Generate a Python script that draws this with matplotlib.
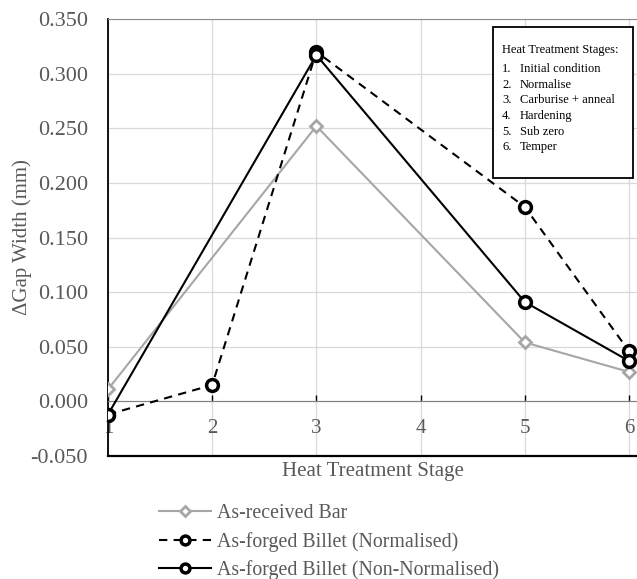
import numpy as np
import matplotlib.pyplot as plt
from matplotlib.patches import Rectangle

plt.rcParams['font.family'] = ['Liberation Serif', 'DejaVu Serif']

# --- data ---
bar_x = [1, 3, 5, 6]
bar_y = [0.011, 0.252, 0.054, 0.027]

norm_x = [1, 2, 3, 5, 6]
norm_y = [-0.012, 0.015, 0.320, 0.178, 0.046]

nonnorm_x = [1, 3, 5, 6]
nonnorm_y = [-0.012, 0.317, 0.091, 0.037]

stage_ticks = [1, 2, 3, 4, 5, 6]
y_ticks = [-0.05, 0.0, 0.05, 0.10, 0.15, 0.20, 0.25, 0.30, 0.35]
stages = ['Initial condition', 'Normalise', 'Carburise + anneal',
          'Hardening', 'Sub zero', 'Temper']

txt_grey = '#595959'

fig = plt.figure(figsize=(6.37, 5.79), dpi=100)
ax = fig.add_axes([0.1695, 0.2124, 0.8305, 0.7548])

ax.grid(True, color='#d9d9d9', lw=0.9)
ax.set_axisbelow(True)

ax.plot(bar_x, bar_y, color='#a6a6a6', lw=1.5, marker='D', ms=6.5,
        mfc='white', mec='#a6a6a6', mew=2, label='As-received Bar', zorder=3)
ax.plot(norm_x, norm_y, color='black', lw=1.5, ls=(0, (4, 3)), marker='o', ms=8.5,
        mfc='white', mec='black', mew=2.5, label='As-forged Billet (Normalised)', zorder=4)
ax.plot(nonnorm_x, nonnorm_y, color='black', lw=1.5, marker='o', ms=8.5,
        mfc='white', mec='black', mew=2.5, label='As-forged Billet (Non-Normalised)', zorder=4)

ax.set_xlim(1, 6.077)
ax.set_ylim(-0.05, 0.35)
ax.set_xticks(stage_ticks)
ax.set_yticks(y_ticks)
ax.set_yticklabels([f'{v:.3f}' for v in y_ticks])

# category axis crosses at zero
ax.spines['bottom'].set_position(('data', 0))
ax.spines['bottom'].set_color('#7f7f7f')
ax.spines['top'].set_color('#8c8c8c')
ax.spines['right'].set_visible(False)
ax.spines['left'].set_color('black')
ax.spines['left'].set_linewidth(1.3)
ax.axhline(-0.05, color='black', lw=1.6, clip_on=False, zorder=5)

ax.tick_params(axis='x', direction='in', length=4, width=1, color='black',
               pad=13, labelsize=15, labelcolor=txt_grey)
ax.tick_params(axis='y', length=0, pad=14.5, labelsize=16, labelcolor=txt_grey)

ax.set_xlabel('Heat Treatment Stage', fontsize=15, color=txt_grey)
ax.xaxis.set_label_coords(0.5, -0.014)
ax.set_ylabel('ΔGap Width (mm)', fontsize=15, color=txt_grey)
ax.yaxis.set_label_coords(-0.144, 0.5)

# stages key in the top right corner
ax.add_patch(Rectangle((0.728, 0.636), 0.264, 0.346, transform=ax.transAxes,
                       facecolor='white', edgecolor='black', lw=1.3, zorder=6))
ax.text(0.745, 0.93, 'Heat Treatment Stages:', transform=ax.transAxes,
        fontsize=9, va='center', zorder=7)
for i, s in enumerate(stages):
    yy = 0.886 - i * 0.036
    ax.text(0.745, yy, f'{i + 1}.', transform=ax.transAxes, fontsize=9, va='center', zorder=7)
    ax.text(0.779, yy, s, transform=ax.transAxes, fontsize=9, va='center', zorder=7)

leg = fig.legend(loc='upper left', bbox_to_anchor=(0.2496, 0.130), frameon=False,
                 fontsize=14.3, handlelength=2.6, handletextpad=0.3, labelspacing=0.45,
                 borderpad=0, borderaxespad=0, markerscale=0.75)
for t in leg.get_texts():
    t.set_color(txt_grey)

fig.savefig('out.png', dpi=100)
